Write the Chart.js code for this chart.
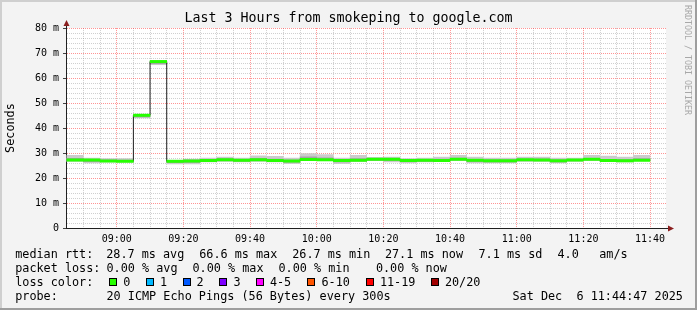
<!DOCTYPE html>
<html><head><meta charset="utf-8">
<script src="https://cdn.jsdelivr.net/npm/chart.js@4.4.1/dist/chart.umd.min.js"></script>
<style>
html,body{margin:0;padding:0;background:#f3f3f3;}
#wrap{position:relative;width:697px;height:310px;overflow:hidden;}
#c{position:absolute;left:0;top:0;}
.t{position:absolute;font-family:'DejaVu Sans Mono',monospace;font-size:11.8px;line-height:14px;color:#000;white-space:pre;}
.box{position:absolute;width:6px;height:6px;border:1px solid #000;top:278px;}
#wm{position:absolute;font-family:'DejaVu Sans Mono',monospace;font-size:8.3px;line-height:10px;color:#a8a8a8;writing-mode:vertical-rl;white-space:pre;left:683px;top:5px;}
</style></head>
<body><div id="wrap"><canvas id="c" width="697" height="310"></canvas><div id="legend"></div><div id="wm">RRDTOOL / TOBI OETIKER</div></div>
<script>
// ---- data ----
const TITLE = 'Last 3 Hours from smokeping to google.com';
const rangeStart = '08:44:47';
const rangeEnd = '11:44:47';
const STEP = 5; // minutes per sample
const sampleTimes = ['08:50','08:55','09:00','09:05','09:10','09:15','09:20','09:25','09:30','09:35','09:40','09:45','09:50','09:55','10:00','10:05','10:10','10:15','10:20','10:25','10:30','10:35','10:40','10:45','10:50','10:55','11:00','11:05','11:10','11:15','11:20','11:25','11:30','11:35','11:40'];
const medianRtt = [27.2,27.2,26.8,26.7,45.1,66.6,26.7,26.8,27.0,27.3,27.1,27.3,27.0,26.8,27.4,27.3,27.0,27.1,27.5,27.5,27.0,27.1,27.0,27.5,27.1,26.9,26.9,27.3,27.2,26.9,27.2,27.5,27.0,26.9,27.1];
const smokeHigh = [29.2,28.1,27.9,27.9,45.4,66.8,27.2,27.7,28.1,28.5,28.1,29.0,28.8,28.1,29.9,29.5,28.1,29.2,28.4,28.5,27.9,28.1,28.5,29.2,28.5,28.1,28.1,28.5,28.5,28.1,28.1,29.2,28.9,28.5,29.2];
const smokeLow  = [26.5,25.9,26.3,26.3,43.9,65.2,25.5,25.5,26.3,26.5,26.3,26.5,26.3,25.6,26.8,26.9,25.6,26.5,26.8,26.3,25.9,26.3,26.5,26.9,25.9,25.9,25.9,26.5,26.5,25.9,26.5,26.9,26.5,26.3,26.8];
const innerHigh = [28.0,27.6,27.4,27.3,45.3,66.7,27.0,27.3,27.6,27.9,27.6,28.0,27.7,27.3,28.6,28.2,27.5,27.9,27.9,27.9,27.4,27.6,27.7,28.1,27.6,27.4,27.4,27.8,27.8,27.4,27.6,28.0,27.6,27.5,27.9];
const innerLow  = [26.8,26.4,26.5,26.4,44.3,65.6,26.0,26.1,26.6,26.8,26.6,26.8,26.6,26.2,27.0,27.0,26.3,26.7,27.0,26.8,26.4,26.6,26.7,27.1,26.4,26.3,26.3,26.8,26.8,26.3,26.8,27.1,26.7,26.5,26.9];
const timeTickLabels = ['09:00','09:20','09:40','10:00','10:20','10:40','11:00','11:20','11:40'];
const yTickLabels = ['0','10 m','20 m','30 m','40 m','50 m','60 m','70 m','80 m'];
const Y_MAX = 80;
const LINE_HALF = 0.6; // half thickness of the median band (style)

// ---- helpers ----
function toMin(s){const p=s.split(':').map(Number);return p[0]*60+p[1]+(p[2]||0)/60;}
const xMin = toMin(rangeStart), xMax = toMin(rangeEnd);
const majorX = {}; timeTickLabels.forEach(l=>{majorX[Math.round(toMin(l))]=l;});
const firstEdge = toMin(sampleTimes[0]) - STEP;
const lastEdge = toMin(sampleTimes[sampleTimes.length-1]);

const barPts = (lo, hi) => sampleTimes.map((t,i)=>({x: toMin(t)-STEP/2, y:[lo[i],hi[i]]}));
const medianBand = sampleTimes.map((t,i)=>({x: toMin(t)-STEP/2, y:[medianRtt[i]-LINE_HALF, medianRtt[i]+LINE_HALF]}));
const medianLine = sampleTimes.map((t,i)=>({x: toMin(t)-STEP, y: medianRtt[i]}));
medianLine.push({x: lastEdge, y: medianRtt[medianRtt.length-1]});

const RED = 'rgba(255,0,0,0.42)';
const GRAY = 'rgba(120,120,120,0.35)';
const MONO = "'DejaVu Sans Mono', monospace";

const framePlugin = {
  id: 'frame',
  beforeDraw(chart){
    const {ctx, chartArea:a, width:w, height:h} = chart;
    ctx.save();
    ctx.fillStyle = '#f3f3f3'; ctx.fillRect(0,0,w,h);
    ctx.fillStyle = '#cfcfcf'; ctx.fillRect(0,0,w,2); ctx.fillRect(0,0,2,h);
    ctx.fillStyle = '#9e9e9e'; ctx.fillRect(0,h-2,w,2); ctx.fillRect(w-2,0,2,h);
    ctx.fillStyle = '#ffffff'; ctx.fillRect(a.left, a.top, a.right-a.left, a.bottom-a.top);
    ctx.restore();
  },
  afterDraw(chart){
    const {ctx, chartArea:a} = chart;
    const x0 = Math.round(a.left)+0.5, y0 = Math.round(a.bottom)+0.5;
    ctx.save();
    ctx.strokeStyle = '#202020'; ctx.lineWidth = 1;
    ctx.beginPath();
    ctx.moveTo(x0, a.top); ctx.lineTo(x0, a.top-5);
    ctx.moveTo(a.right, y0); ctx.lineTo(a.right+3, y0);
    ctx.stroke();
    ctx.fillStyle = '#8b1f1f';
    ctx.beginPath(); ctx.moveTo(x0, a.top-8); ctx.lineTo(x0-3, a.top-2); ctx.lineTo(x0+3, a.top-2); ctx.closePath(); ctx.fill();
    ctx.beginPath(); ctx.moveTo(a.right+8, y0); ctx.lineTo(a.right+2, y0-3); ctx.lineTo(a.right+2, y0+3); ctx.closePath(); ctx.fill();
    ctx.restore();
  }
};

new Chart(document.getElementById('c'), {
  type: 'bar',
  data: { datasets: [
    { type:'bar', data: barPts(smokeLow, smokeHigh), backgroundColor:'#cbcbcb', order:5 },
    { type:'bar', data: barPts(innerLow, innerHigh), backgroundColor:'#a4a4a4', order:4 },
    { type:'line', data: medianLine, stepped:'before', borderColor:'#202020', borderWidth:1, pointRadius:0, fill:false, order:3 },
    { type:'bar', data: medianBand, backgroundColor:'#26ff00', order:2 }
  ]},
  options: {
    responsive:false, animation:false, devicePixelRatio:1, events:[],
    datasets: { bar: { grouped:false, barPercentage:1.03, categoryPercentage:1, borderWidth:0, borderSkipped:false } },
    layout: { padding: { left:0, right:0, top:0, bottom:0 } },
    plugins: {
      legend:{display:false}, tooltip:{enabled:false},
      title:{ display:true, text:TITLE, color:'#000', font:{family:MONO, size:13.3, weight:'normal'}, padding:{top:11, bottom:1.1} }
    },
    scales: {
      x: {
        type:'linear', min:xMin, max:xMax, offset:false,
        afterBuildTicks(s){ const t=[]; for(let v=Math.ceil(firstEdge); v<=lastEdge; v+=STEP) t.push({value:v}); s.ticks=t; },
        afterFit(s){ s.height = 82; },
        grid:{ offset:false, drawTicks:false, color: c => (majorX[Math.round(c.tick.value)] ? RED : GRAY), borderDash:[1,1] },
        border:{ display:true, color:'#202020', width:1, dash:[1,1] },
        ticks:{ autoSkip:false, maxRotation:0, padding:5, color:'#000', font:{family:MONO, size:10},
          callback: v => majorX[Math.round(v)] || '' }
      },
      y: {
        type:'linear', min:0, max:Y_MAX,
        afterBuildTicks(s){ const t=[]; for(let v=0; v<=Y_MAX; v+=2) t.push({value:v}); s.ticks=t; },
        afterFit(s){ s.width = 66; },
        grid:{ drawTicks:true, tickLength:3, color: c => (c.tick.value % 10 === 0 ? RED : GRAY),
          tickColor: c => (c.tick.value % 10 === 0 ? '#404040' : 'rgba(0,0,0,0)'), borderDash:[1,1] },
        border:{ display:true, color:'#202020', width:1, dash:[1,1] },
        ticks:{ autoSkip:false, padding:4, color:'#000', font:{family:MONO, size:10},
          callback: v => (v % 10 === 0 ? yTickLabels[v/10] : '') },
        title:{ display:true, text:'Seconds', color:'#000', font:{family:MONO, size:11.8}, padding:{top:3.5, bottom:0} }
      },
      yRight: {
        type:'linear', position:'right', min:0, max:Y_MAX, display:true,
        afterFit(s){ s.width = 31; },
        grid:{ display:false, drawOnChartArea:false }, border:{ display:false },
        ticks:{ display:false }
      }
    }
  },
  plugins:[framePlugin]
});

// ---- legend (real text) ----
const lossColors = [['0','#26ff00'],['1','#00b8ff'],['2','#0059ff'],['3','#7e00ff'],['4-5','#ff00ff'],['6-10','#ff5500'],['11-19','#ff0000'],['20/20','#a10000']];
const boxX = [108.7,145.7,182.7,219.3,256,307.3,365.7,430.7];
const labX = [124,160.7,197.3,234.3,270.7,322.3,380.7,445.7];
const lines = [
  [247.4, [[16,'median rtt:'],[107,'28.7 ms avg'],[200,'66.6 ms max'],[293,'26.7 ms min'],[385.7,'27.1 ms now'],[479.3,'7.1 ms sd'],[558.3,'4.0'],[600,'am/s']]],
  [261.2, [[16,'packet loss:'],[107.3,'0.00 % avg'],[193.3,'0.00 % max'],[279.3,'0.00 % min'],[376.7,'0.00 % now']]],
  [275.0, [[16,'loss color:']].concat(lossColors.map((c,i)=>[labX[i], c[0]]))],
  [288.8, [[16,'probe:'],[107.3,'20 ICMP Echo Pings (56 Bytes) every 300s'],[513.3,'Sat Dec  6 11:44:47 2025']]]
];
const lg = document.getElementById('legend');
lines.forEach(([top, items])=>{
  items.forEach(([x, txt])=>{
    const s = document.createElement('span'); s.className='t'; s.textContent = txt;
    s.style.left = (x-0.8)+'px'; s.style.top = top+'px'; lg.appendChild(s);
  });
});
lossColors.forEach((c,i)=>{
  const b = document.createElement('span'); b.className='box'; b.style.left = boxX[i]+'px'; b.style.background = c[1]; lg.appendChild(b);
});
</script>
</body></html>
